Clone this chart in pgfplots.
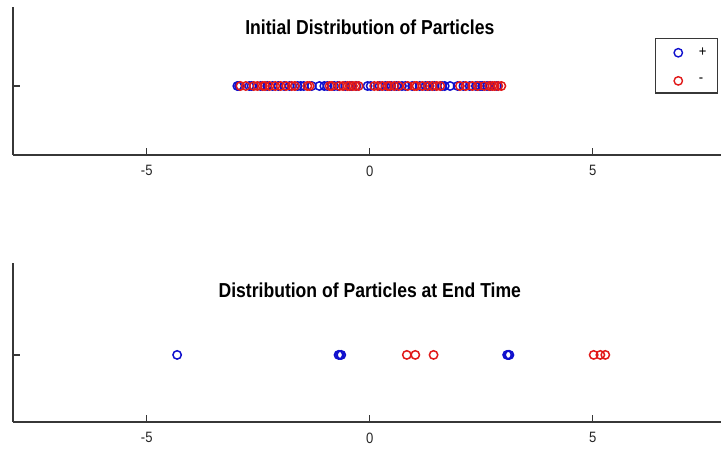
\documentclass[border=0pt]{standalone}
\usepackage{fontspec}
\setmainfont{Liberation Sans}
\newfontfamily\narrowfont[FakeStretch=0.87]{Liberation Sans}
\usepackage{pgfplots}
\pgfplotsset{compat=1.18}

\definecolor{pblue}{RGB}{15,15,205}
\definecolor{pred}{RGB}{225,25,25}
\definecolor{axgray}{RGB}{55,55,55}

\pgfplotsset{
  partaxis/.style={
    scale only axis,
    width=713.6pt,
    xmin=-8, xmax=8,
    ymin=-1,
    axis x line=bottom, axis y line=left,
    axis line style={-, axgray, line width=1.4pt},
    tick style={axgray, line width=1.3pt},
    tick align=inside,
    major tick length=7pt,
    xtick={-5,0,5},
    xticklabels={-5,0,5},
    ytick={0}, yticklabels={},
    xticklabel style={font=\narrowfont\fontsize{15}{17}\selectfont, text=black!85, yshift=-7pt},
    clip=false,
  },
  pmark/.style={only marks, mark=o, mark size=4.2pt, line width=1.5pt},
}

\begin{document}
\begin{tikzpicture}
\useasboundingbox (0,0) rectangle (721pt,453pt);

% top: initial distribution
\begin{axis}[partaxis,
  height=148pt, ymax=1.145,
  at={(13pt,298pt)}, anchor=south west,
  legend style={at={(0.988,0.79)}, anchor=north east,
    draw=axgray, line width=1.2pt,
    inner xsep=8pt, inner ysep=5pt, row sep=12pt, column sep=9pt,
    nodes={font=\narrowfont\fontsize{15}{17}\selectfont, inner xsep=3pt, inner ysep=4pt}},
  legend image code/.code={%
    \path[draw=none] (-6pt,0pt) -- (0.6cm,0pt);
    \draw[#1, line width=1.4pt] plot coordinates {(0.3cm,0cm)};},
  legend cell align=left,
]
\addplot[pmark, pblue] coordinates {
  (-2.97,0) (-2.93,0) (-2.70,0) (-2.65,0) (-2.45,0) (-2.30,0) (-2.18,0)
  (-2.05,0) (-1.92,0) (-1.80,0) (-1.62,0) (-1.55,0) (-1.48,0) (-1.30,0)
  (-1.13,0) (-1.02,0) (-0.95,0) (-0.80,0) (-0.72,0) (-0.55,0) (-0.42,0)
  (-0.30,0) (-0.05,0) (0.02,0) (0.22,0) (0.35,0) (0.48,0) (0.60,0)
  (0.72,0) (0.80,0) (0.95,0) (1.12,0) (1.25,0) (1.34,0) (1.45,0)
  (1.62,0) (1.68,0) (1.80,0) (1.97,0) (2.10,0) (2.24,0) (2.38,0)
  (2.47,0) (2.52,0) (2.63,0) (2.70,0) (2.85,0)
};
\addlegendentry{+}
\addplot[pmark, pred] coordinates {
  (-2.90,0) (-2.78,0) (-2.60,0) (-2.52,0) (-2.40,0) (-2.35,0) (-2.25,0)
  (-2.12,0) (-2.00,0) (-1.88,0) (-1.75,0) (-1.68,0) (-1.40,0) (-1.35,0)
  (-0.90,0) (-0.85,0) (-0.68,0) (-0.60,0) (-0.50,0) (-0.45,0) (-0.38,0)
  (-0.32,0) (-0.25,0) (0.10,0) (0.18,0) (0.28,0) (0.40,0) (0.45,0)
  (0.55,0) (0.65,0) (0.85,0) (1.00,0) (1.05,0) (1.18,0) (1.30,0)
  (1.40,0) (1.50,0) (1.58,0) (2.02,0) (2.15,0) (2.30,0) (2.42,0)
  (2.57,0) (2.68,0) (2.75,0) (2.80,0) (2.88,0) (2.95,0)
};
\addlegendentry{-}
\node[font=\narrowfont\bfseries\fontsize{20.2}{22}\selectfont] at (rel axis cs:0.5,0.865)
  {Initial Distribution of Particles};
\end{axis}

% bottom: end time
\begin{axis}[partaxis,
  height=159pt, ymax=1.37,
  at={(13pt,31pt)}, anchor=south west,
]
\addplot[pmark, pblue] coordinates {
  (-4.32,0) (-0.70,0) (-0.67,0) (-0.64,0) (3.08,0) (3.11,0) (3.13,0)
};
\addplot[pmark, pred] coordinates {
  (0.83,0) (1.02,0) (1.43,0) (5.02,0) (5.17,0) (5.28,0)
};
\node[font=\narrowfont\bfseries\fontsize{20.2}{22}\selectfont] at (rel axis cs:0.5,0.83)
  {Distribution of Particles at End Time};
\end{axis}
\end{tikzpicture}
\end{document}
